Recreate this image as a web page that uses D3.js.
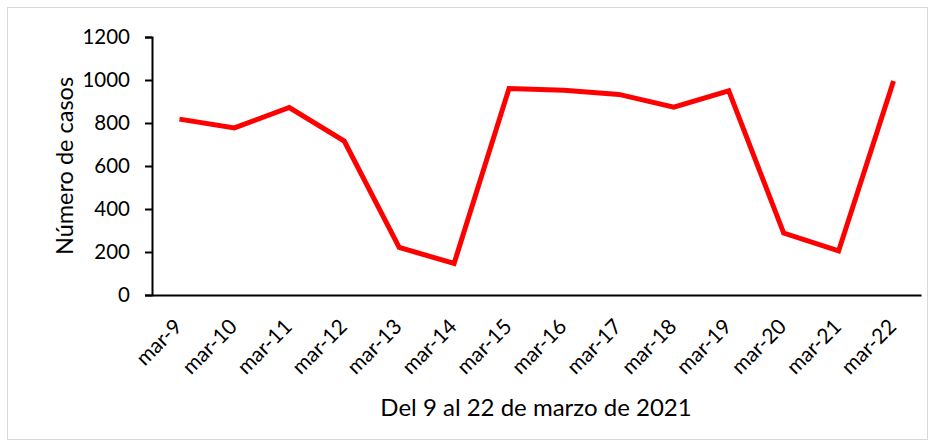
<!DOCTYPE html>
<html>
<head>
<meta charset="utf-8">
<script src="https://cdn.jsdelivr.net/npm/d3@7"></script>
<style>
  body { margin: 0; background: #fff; }
  svg { display: block; font-family: Lato, "Open Sans", sans-serif; }
</style>
</head>
<body>
<svg></svg>
<script>
// data
let days = ["mar-9", "mar-10", "mar-11", "mar-12", "mar-13", "mar-14", "mar-15",
            "mar-16", "mar-17", "mar-18", "mar-19", "mar-20", "mar-21", "mar-22"];
let cases = [818, 777, 872, 716, 221, 147, 960, 952, 933, 874, 950, 288, 205, 995];
let yTicks = [0, 200, 400, 600, 800, 1000, 1200];

let W = 935, H = 447;
let margin = {top: 37, right: 14, bottom: 152, left: 152};
let width = W - margin.left - margin.right;
let height = H - margin.top - margin.bottom;

let svg = d3.select("svg")
    .attr("width", W)
    .attr("height", H);

// outer frame
svg.append("rect")
    .attr("x", 7.5).attr("y", 7.5)
    .attr("width", W - 15).attr("height", H - 15)
    .attr("fill", "white")
    .attr("stroke", "#d9d9d9")
    .attr("stroke-width", 1);

let g = svg.append("g")
    .attr("transform", "translate(" + margin.left + "," + margin.top + ")");

let x = d3.scaleBand().domain(days).range([0, width]);
let y = d3.scaleLinear().domain([0, 1200]).range([height, 0]);

// y axis
let yAxis = g.append("g")
    .call(d3.axisLeft(y).tickValues(yTicks).tickSize(7).tickPadding(15).tickFormat(d3.format("d")));
yAxis.select(".domain").attr("stroke", "black").attr("stroke-width", 2);
yAxis.selectAll(".tick line").attr("stroke", "black").attr("stroke-width", 2);
yAxis.selectAll("text")
    .attr("font-size", "20.5px")
    .attr("font-family", "Lato, sans-serif")
    .attr("fill", "black");

// x axis
let xAxis = g.append("g")
    .attr("transform", "translate(0," + height + ")")
    .call(d3.axisBottom(x).tickSize(0).tickSizeOuter(0).tickPadding(0));
xAxis.select(".domain").attr("stroke", "black").attr("stroke-width", 2);
xAxis.selectAll("text")
    .attr("font-size", "21px")
    .attr("font-family", "Lato, sans-serif")
    .attr("fill", "black")
    .attr("text-anchor", "end")
    .attr("dy", null)
    .attr("y", 0)
    .attr("transform", "translate(4,33) rotate(-45)");

// line
let line = d3.line()
    .x((d, i) => x(days[i]) + x.bandwidth() / 2)
    .y(d => y(d));

g.append("path")
    .datum(cases)
    .attr("d", line)
    .attr("fill", "none")
    .attr("stroke", "#ff0000")
    .attr("stroke-width", 5)
    .attr("stroke-linejoin", "miter");

// titles
svg.append("text")
    .attr("transform", "translate(73," + (margin.top + height / 2) + ") rotate(-90)")
    .attr("text-anchor", "middle")
    .attr("font-size", "23.5px")
    .attr("fill", "black")
    .text("Número de casos");

svg.append("text")
    .attr("x", 536)
    .attr("y", 416)
    .attr("text-anchor", "middle")
    .attr("font-size", "24px")
    .attr("fill", "black")
    .text("Del 9 al 22 de marzo de 2021");
</script>
</body>
</html>
